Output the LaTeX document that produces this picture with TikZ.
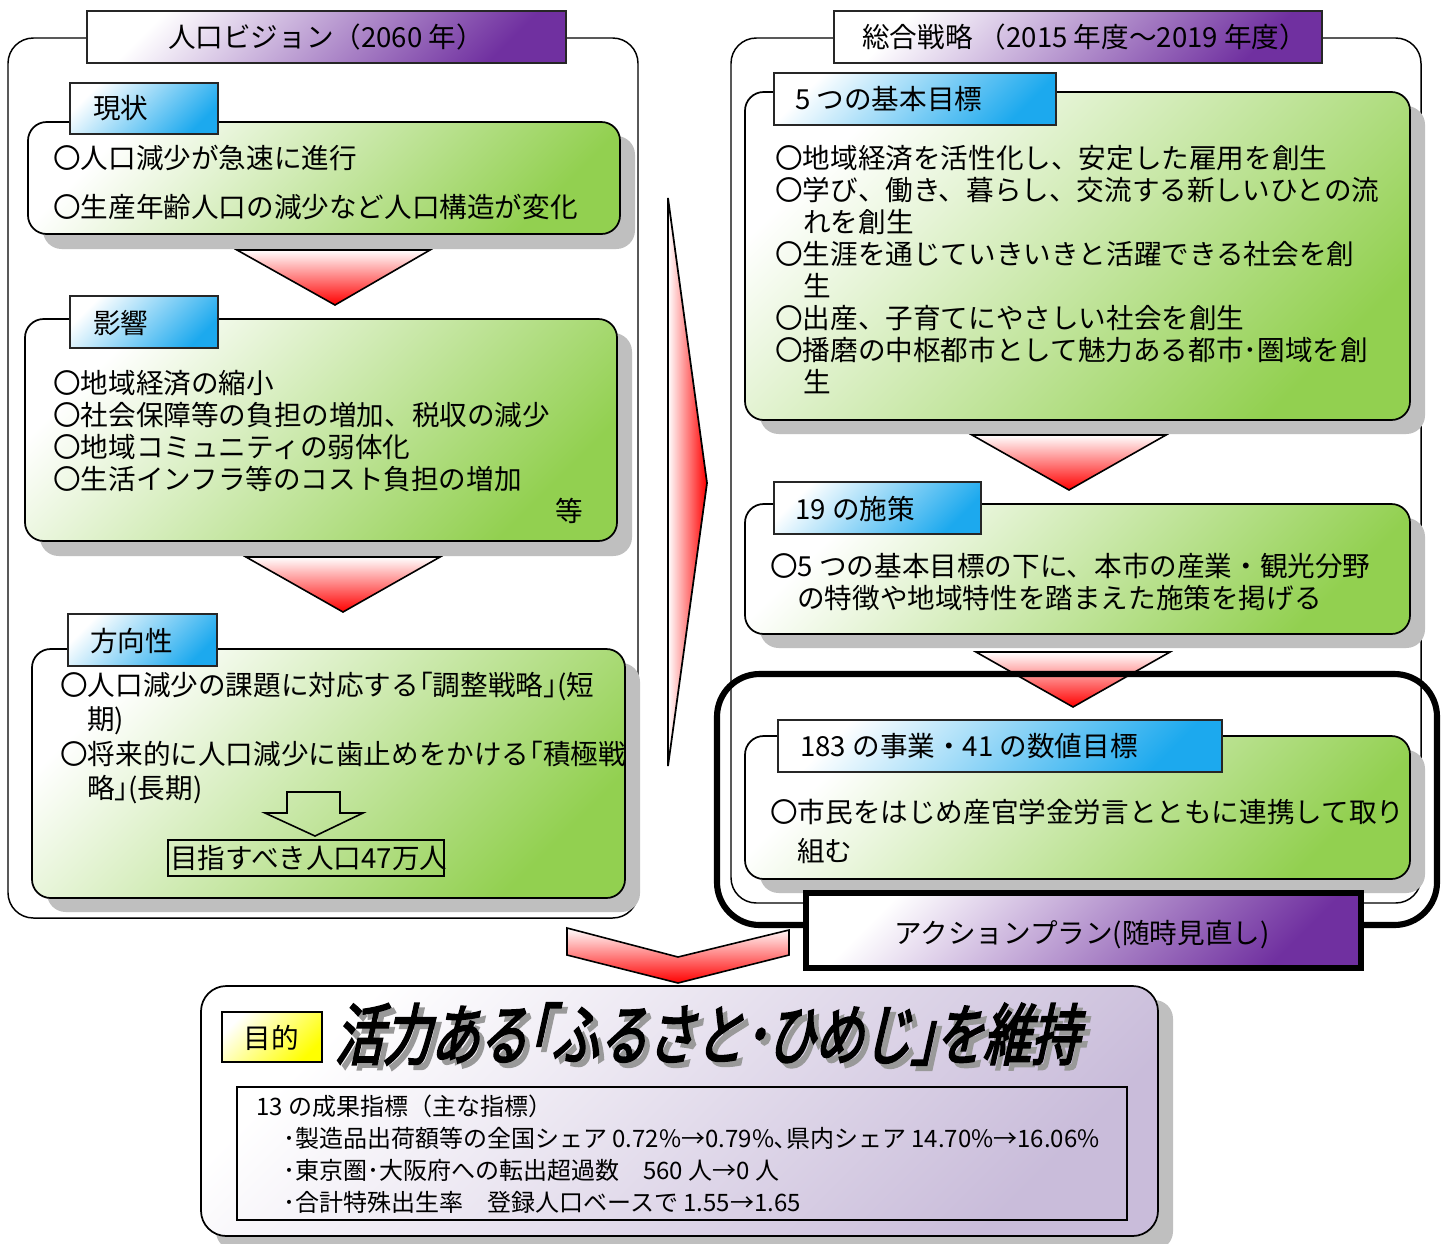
\documentclass[tikz,border=0pt]{standalone}
\usepackage{fontspec}
\setmainfont{Noto Sans CJK JP}
\newfontfamily\titlefont[FakeSlant=0.22,FakeStretch=0.72,FakeBold=3]{Noto Sans CJK JP}
\definecolor{gEnd}{HTML}{92D050}
\definecolor{bEnd}{HTML}{1CA9EE}
\definecolor{pEnd}{HTML}{7030A0}
\definecolor{lEnd}{HTML}{C9BCDA}
\definecolor{shd}{HTML}{BFBFBF}
\definecolor{yEnd}{HTML}{FFFF00}
\begin{document}
\begin{tikzpicture}[x=0.75pt,y=-0.75pt,
  outerbox/.style={draw=black,line width=1.1pt,rounded corners=19pt,fill=white},
  shadowbox/.style={fill=shd,rounded corners=14pt},
  greenbox/.style={draw=black,line width=1.3pt,rounded corners=14pt,top color=white,bottom color=gEnd,shading angle=45},
  tabbox/.style={draw=black!85,line width=1.2pt,top color=white,bottom color=bEnd,shading angle=45},
  titlebox/.style={draw=black!85,line width=1.2pt,top color=white,bottom color=pEnd,shading angle=45},
  downarrow/.style={draw=black,line width=1.2pt,top color=white,bottom color=red},
  txt/.style={anchor=west,inner sep=0pt,font=\fontsize{20.7pt}{24pt}\selectfont,text height=18pt,text depth=2.5pt},
  stxt/.style={anchor=west,inner sep=0pt,font=\fontsize{18pt}{22pt}\selectfont,text height=15.6pt,text depth=2.2pt},
  ctxt/.style={txt,anchor=center}]
\useasboundingbox (0,0) rectangle (1445,1243);

% ===== left column =====
\draw[outerbox] (8,38) rectangle (638,918);
\shade[titlebox] (87,11) rectangle (566,63);
\node[ctxt] (t1) at (326,37) {人口ビジョン（2060 年）};

% 現状
\fill[shadowbox] (43,136) rectangle (635,249);
\shade[greenbox] (28,122) rectangle (620,234);
\shade[tabbox] (70,83) rectangle (218,134);
\node[txt] (g1) at (93,108) {現状};
\node[txt] (g1a) at (53,158) {〇人口減少が急速に進行};
\node[txt] (g1b) at (53,207) {〇生産年齢人口の減少など人口構造が変化};

\shade[downarrow] (237,250) -- (430,250) -- (335,305) -- cycle;

% 影響
\fill[shadowbox] (40,333) rectangle (632,556);
\shade[greenbox] (25,319) rectangle (617,541);
\shade[tabbox] (70,296) rectangle (218,348);
\node[txt] (g2) at (93,323) {影響};
\node[txt] (g2a) at (53,383) {〇地域経済の縮小};
\node[txt] (g2b) at (53,415) {〇社会保障等の負担の増加、税収の減少};
\node[txt] (g2c) at (53,447) {〇地域コミュニティの弱体化};
\node[txt] (g2d) at (53,479) {〇生活インフラ等のコスト負担の増加};
\node[txt] (g2e) at (555,511) {等};

\shade[downarrow] (246,557) -- (440,557) -- (343,612) -- cycle;

% 方向性
\fill[shadowbox] (47,663) rectangle (640,912);
\shade[greenbox] (32,649) rectangle (625,898);
\shade[tabbox] (68,614) rectangle (217,666);
\node[txt] (g3) at (90,641) {方向性};
\node[txt] (g3a) at (60,685) {〇人口減少の課題に対応する｢調整戦略｣(短};
\node[txt] (g3b) at (87,719) {期)};
\node[txt] (g3c) at (60,754) {〇将来的に人口減少に歯止めをかける｢積極戦};
\node[txt] (g3d) at (87,788) {略｣(長期)};
\draw[line width=1.2pt] (287,792) -- (340,792) -- (340,813) -- (363,813) -- (315,836) -- (265,813) -- (287,813) -- cycle;
\draw[line width=1.2pt] (168,840) rectangle (444,876);
\node[txt] (goal) at (170,858) {目指すべき人口47万人};

% ===== middle arrow =====
\shade[draw=black,line width=1.3pt,left color=white,right color=red] (668,198) -- (707,483) -- (668,766) -- cycle;

% ===== right column =====
\draw[outerbox] (731,38) rectangle (1421,903);
\shade[titlebox] (834,11) rectangle (1322,63);
\node[txt] (t2) at (862,37) {総合戦略 （2015 年度～2019 年度）};

% 5つの基本目標
\fill[shadowbox] (760,106) rectangle (1425,434);
\shade[greenbox] (745,92) rectangle (1410,420);
\shade[tabbox] (774,73) rectangle (1056,125);
\node[txt] (r1) at (795,99) {5 つの基本目標};
\node[txt] (r1a) at (775,158) {〇地域経済を活性化し、安定した雇用を創生};
\node[txt] (r1b) at (775,190) {〇学び、働き、暮らし、交流する新しいひとの流};
\node[txt] (r1c) at (803,222) {れを創生};
\node[txt] (r1d) at (775,254) {〇生涯を通じていきいきと活躍できる社会を創};
\node[txt] (r1e) at (803,286) {生};
\node[txt] (r1f) at (775,318) {〇出産、子育てにやさしい社会を創生};
\node[txt] (r1g) at (775,350) {〇播磨の中枢都市として魅力ある都市･圏域を創};
\node[txt] (r1h) at (803,382) {生};

\shade[downarrow] (972,435) -- (1166,435) -- (1069,490) -- cycle;

% 19の施策
\fill[shadowbox] (760,518) rectangle (1425,648);
\shade[greenbox] (745,504) rectangle (1410,634);
\shade[tabbox] (774,482) rectangle (981,534);
\node[txt] (r2) at (795,509) {19 の施策};
\node[txt] (r2a) at (770,566) {〇5 つの基本目標の下に、本市の産業・観光分野};
\node[txt] (r2b) at (797,598) {の特徴や地域特性を踏まえた施策を掲げる};

\shade[downarrow] (976,652) -- (1170,652) -- (1073,707) -- cycle;

% thick frame
\draw[line width=4.6pt,rounded corners=32pt] (717,674) rectangle (1437,925);

% 183の事業
\fill[shadowbox] (760,750) rectangle (1425,893);
\shade[greenbox] (745,736) rectangle (1410,879);
\shade[tabbox] (778,720) rectangle (1222,772);
\node[txt] (r3) at (800,746) {183 の事業・41 の数値目標};
\node[txt] (r3a) at (770,812) {〇市民をはじめ産官学金労言とともに連携して取り};
\node[txt] (r3b) at (797,851) {組む};

% action plan
\shade[draw=black,line width=5pt,top color=white,bottom color=pEnd,shading angle=45] (806,893) rectangle (1361,968);
\node[ctxt] (ap) at (1082,933) {アクションプラン(随時見直し)};

% ===== bottom =====
\shade[draw=black,line width=1.2pt,top color=white,bottom color=red] (567,928) -- (678,957) -- (789,930) -- (789,955) -- (678,983) -- (567,955) -- cycle;

\fill[shadowbox] (216,1000) rectangle (1173,1250);
\shade[draw=black,line width=1.3pt,rounded corners=19pt,top color=white,bottom color=lEnd,shading angle=45] (201,986) rectangle (1158,1236);
\shade[draw=black,line width=1.2pt,top color=white,bottom color=yEnd,shading angle=45] (222,1012) rectangle (322,1062);
\node[ctxt] (mk) at (271,1038) {目的};
\node[inner sep=0pt,text=black!40,font=\titlefont\fontsize{50pt}{56pt}\selectfont] (titleshadow) at (712,1039) {活力ある｢ふるさと･ひめじ｣を維持};
\node[inner sep=0pt,font=\titlefont\fontsize{50pt}{56pt}\selectfont] (title) at (707,1034) {活力ある｢ふるさと･ひめじ｣を維持};
\draw[line width=1.2pt] (237,1087) rectangle (1127,1220);
\node[stxt] (b1) at (256,1107) {13 の成果指標（主な指標）};
\node[stxt] (b2) at (283,1139) {･製造品出荷額等の全国シェア 0.72\%→0.79\%､県内シェア 14.70\%→16.06\%};
\node[stxt] (b3) at (283,1171) {･東京圏･大阪府への転出超過数　560 人→0 人};
\node[stxt] (b4) at (283,1203) {･合計特殊出生率　登録人口ベースで 1.55→1.65};
\end{tikzpicture}
\end{document}
